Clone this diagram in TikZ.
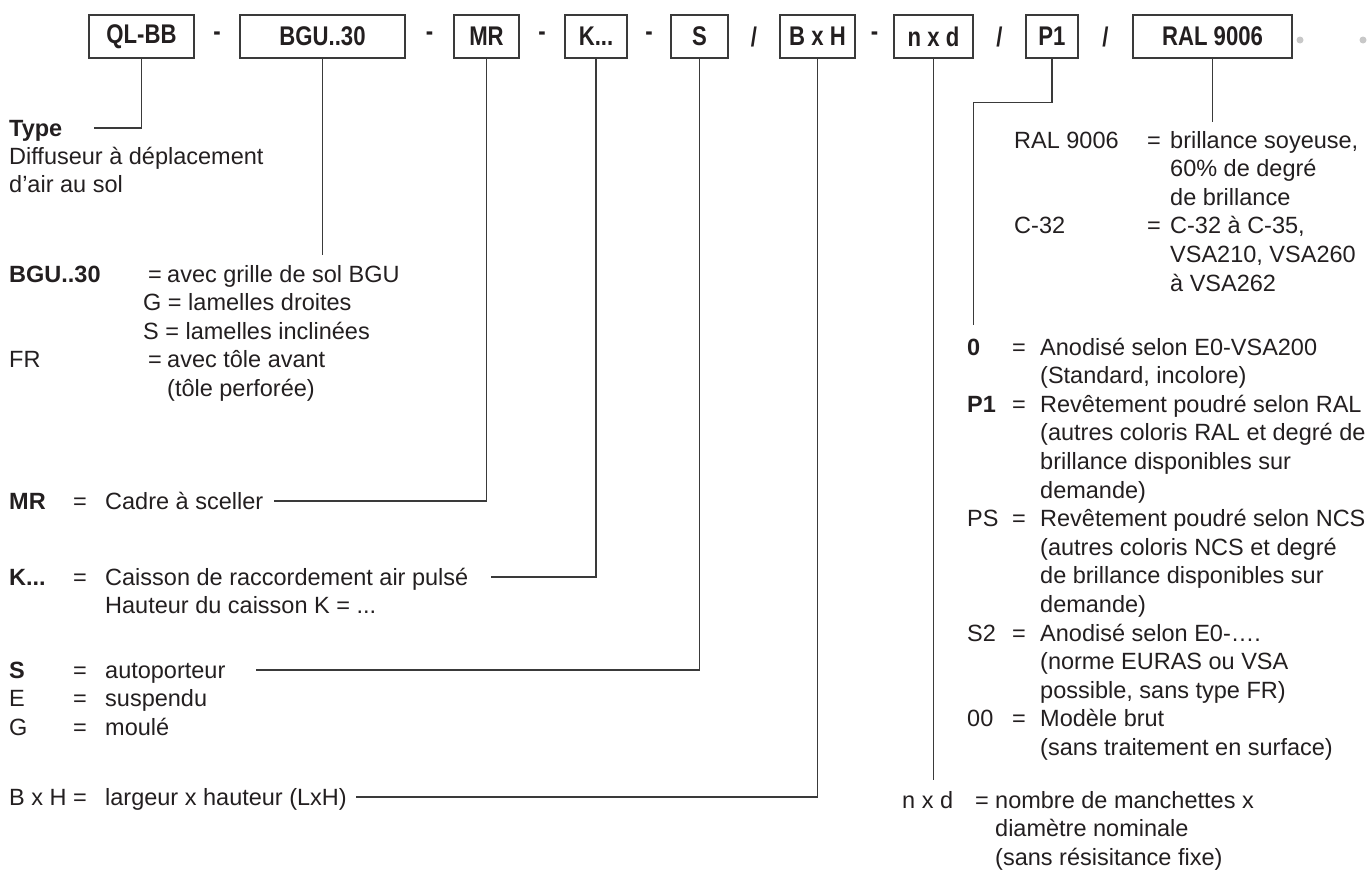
\documentclass[tikz,border=0pt]{standalone}
\usepackage{fontspec}
\setmainfont{Liberation Sans}
\newfontfamily\boxfont[FakeStretch=0.82]{Liberation Sans}
\usepackage{xcolor}
\definecolor{ink}{HTML}{231F20}
\definecolor{rule}{HTML}{3A3A3A}
\definecolor{dotgray}{HTML}{C8C8C8}
\usepackage{array}
\usepackage{tikz}
\usetikzlibrary{calc}
\newcommand{\bodyfont}{\fontsize{23.5}{28.6}\selectfont}
\tikzset{code/.style={draw=rule,line width=1.2pt,minimum height=43pt,inner sep=0pt,font=\boxfont\fontsize{27}{30}\selectfont\bfseries,text=ink},sep/.style={font=\boxfont\fontsize{27}{30}\selectfont\bfseries,text=ink,inner sep=0pt},legend/.style={anchor=base west,inner sep=0pt,font=\bodyfont,text=ink},lead/.style={draw=rule,line width=1.2pt}}

\begin{document}
\begin{tikzpicture}[x=1pt,y=-1pt]
\useasboundingbox (0,0) rectangle (1370,873);
% code boxes
\node[code,minimum width=105pt] (qlbb) at (141.5,36.5) {QL-BB};
\node[code,minimum width=165pt] (bgu) at (322.5,36.5) {BGU..30};
\node[code,minimum width=65pt] (mr) at (486.5,36.5) {MR};
\node[code,minimum width=62pt] (kbox) at (596,36.5) {K...};
\node[code,minimum width=57pt] (sbox) at (699.5,36.5) {S};
\node[code,minimum width=75pt] (bxh) at (817.5,36.5) {B x H};
\node[code,minimum width=79pt] (nxd) at (933.5,36.5) {n x d};
\node[code,minimum width=52pt] (p1) at (1052,36.5) {P1};
\node[code,minimum width=159pt] (ral) at (1212.5,36.5) {RAL 9006};
\node[sep] (sepa) at ($(qlbb.east)!.5!(bgu.west)$) {-};
\node[sep] (sepb) at ($(bgu.east)!.5!(mr.west)$) {-};
\node[sep] (sepc) at ($(mr.east)!.5!(kbox.west)$) {-};
\node[sep] (sepd) at ($(kbox.east)!.5!(sbox.west)$) {-};
\node[sep] (sepe) at ($(sbox.east)!.5!(bxh.west)$) {/};
\node[sep] (sepf) at ($(bxh.east)!.5!(nxd.west)$) {-};
\node[sep] (sepg) at ($(nxd.east)!.5!(p1.west)$) {/};
\node[sep] (seph) at ($(p1.east)!.5!(ral.west)$) {/};
\fill[dotgray] (1300,40) circle (3.5);
\fill[dotgray] (1363,40) circle (3.5);
% left legends
\node[legend] (type) at (9,136) {\textbf{Type}};
\node[legend] (diff) at (9,164) {\begin{tabular}[t]{@{}l@{}}Diffuseur à déplacement\\d'air au sol\end{tabular}};
\node[legend] (bgublk) at (9,282) {\begin{tabular}[t]{@{}p{139pt}@{}p{19pt}@{}l@{}}
\textbf{BGU..30} & = & avec grille de sol BGU\\
\multicolumn{3}{@{}l@{}}{\hspace{134pt}G = lamelles droites}\\
\multicolumn{3}{@{}l@{}}{\hspace{134pt}S = lamelles inclinées}\\
FR & = & avec tôle avant\\
 & & (tôle perforée)\end{tabular}};
\node[legend] (mrblk) at (9,509) {\begin{tabular}[t]{@{}p{64pt}@{}p{32pt}@{}l@{}}\textbf{MR} & = & Cadre à sceller\end{tabular}};
\node[legend] (kblk) at (9,585) {\begin{tabular}[t]{@{}p{64pt}@{}p{32pt}@{}l@{}}
\textbf{K...} & = & Caisson de raccordement air pulsé\\
 & & Hauteur du caisson K = ...\end{tabular}};
\node[legend] (sblk) at (9,678) {\begin{tabular}[t]{@{}p{64pt}@{}p{32pt}@{}l@{}}
\textbf{S} & = & autoporteur\\
E & = & suspendu\\
G & = & moulé\end{tabular}};
\node[legend] (bxhblk) at (9,805) {\begin{tabular}[t]{@{}p{64pt}@{}p{32pt}@{}l@{}}B x H & = & largeur x hauteur (LxH)\end{tabular}};
% right legends
\node[legend] (ralblk) at (1014,148) {\begin{tabular}[t]{@{}p{133pt}@{}p{23pt}@{}l@{}}
RAL 9006 & = & brillance soyeuse,\\
 & & 60\% de degré\\
 & & de brillance\\
C-32 & = & C-32 à C-35,\\
 & & VSA210, VSA260\\
 & & à VSA262\end{tabular}};
\node[legend] (finblk) at (967,355) {\begin{tabular}[t]{@{}p{45pt}@{}p{28pt}@{}l@{}}
\textbf{0} & = & Anodisé selon E0-VSA200\\
 & & (Standard, incolore)\\
\textbf{P1} & = & Revêtement poudré selon RAL\\
 & & (autres coloris RAL et degré de\\
 & & brillance disponibles sur\\
 & & demande)\\
PS & = & Revêtement poudré selon NCS\\
 & & (autres coloris NCS et degré\\
 & & de brillance disponibles sur\\
 & & demande)\\
S2 & = & Anodisé selon E0-….\\
 & & (norme EURAS ou VSA\\
 & & possible, sans type FR)\\
00 & = & Modèle brut\\
 & & (sans traitement en surface)\end{tabular}};
\node[legend] (nxdblk) at (902,808) {\begin{tabular}[t]{@{}p{73pt}@{}p{20pt}@{}l@{}}
n x d & = & nombre de manchettes x\\
 & & diamètre nominale\\
 & & (sans résisitance fixe)\end{tabular}};
% leader lines
\draw[lead] (qlbb.south) |- ($(type.base east)+(31,-8)$);
\draw[lead] (bgu.south) -- ($(bgu.south |- bgublk.north)+(0,-7)$);
\draw[lead] (mr.south) |- ($(mrblk.base east)+(11,-8)$);
\draw[lead] (kbox.south) |- ($(kblk.base east)+(22,-8)$);
\draw[lead] (sbox.south) |- ($(sblk.base east)+(30,-8)$);
\draw[lead] (bxh.south) |- ($(bxhblk.base east)+(9,-8)$);
\draw[lead] (nxd.south) -- ($(nxd.south |- nxdblk.north)+(0,-8)$);
\draw[lead] (p1.south) -- ++(0,44) -| ($(finblk.north west)+(6.5,-10)$);
\draw[lead] (ral.south) -- ($(ral.south |- ralblk.north)+(0,-6)$);
\end{tikzpicture}
\end{document}
